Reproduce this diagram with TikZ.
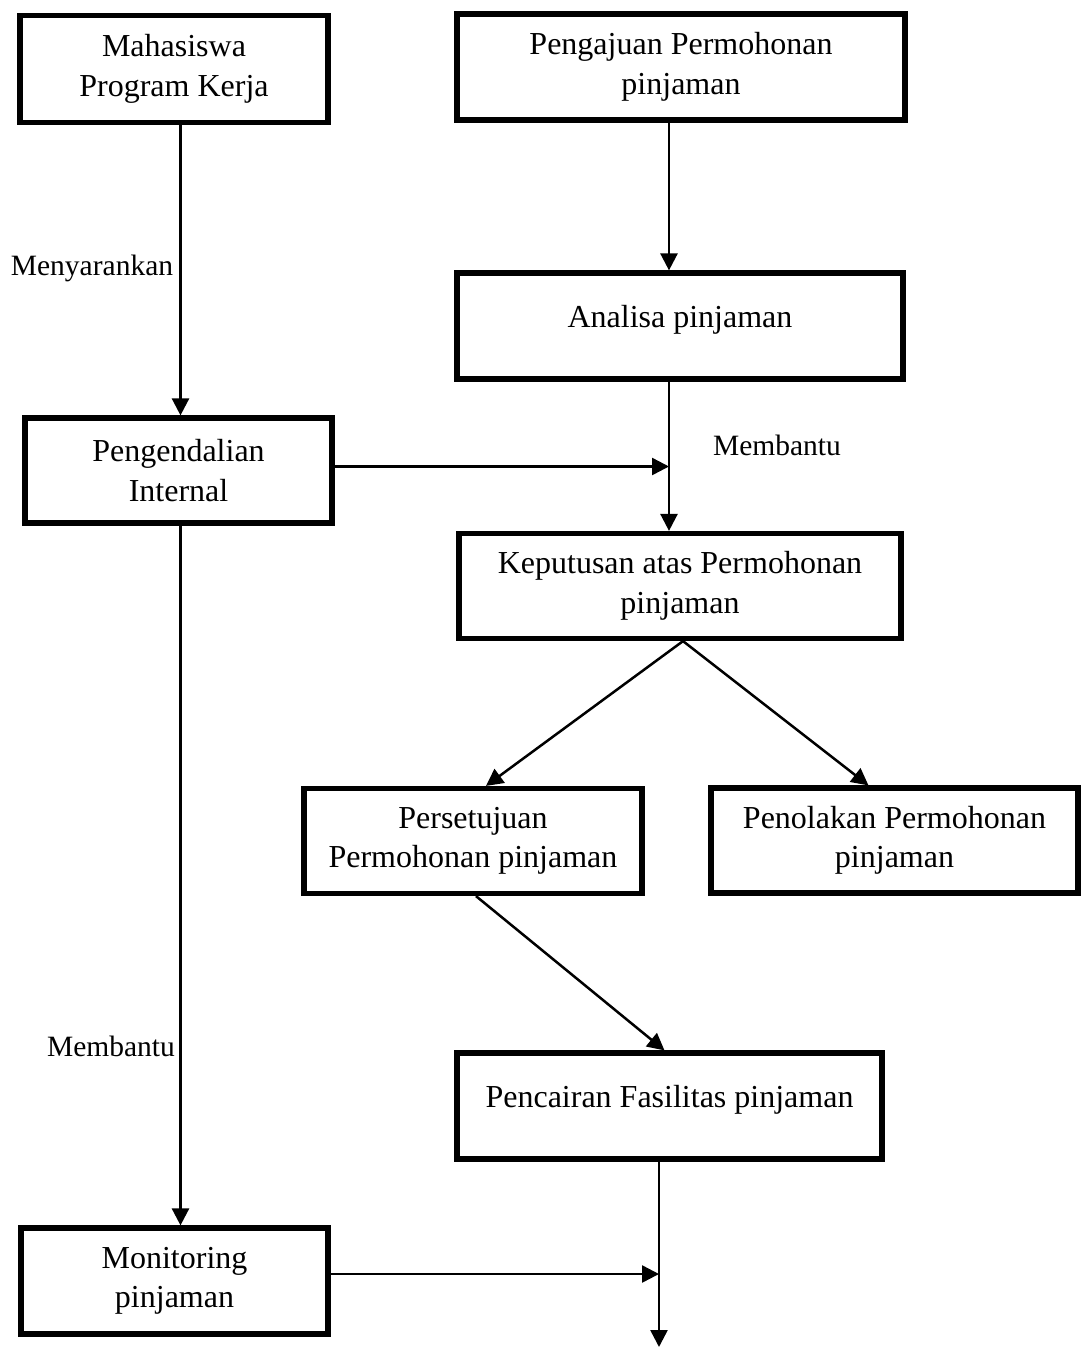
\documentclass[tikz,border=0pt]{standalone}
\usepackage{fontspec}
\setmainfont{Liberation Serif}
\usetikzlibrary{arrows.meta}
\begin{document}
\begin{tikzpicture}[x=1pt,y=-1pt,
  box/.style={draw,line width=5.2pt,align=center,inner sep=0pt,
    font=\fontsize{32}{39.5}\selectfont},
  lbl/.style={font=\fontsize{29.5}{35}\selectfont,inner sep=0pt},
  arr/.style={line width=2.5pt,-{Triangle[length=17pt,width=17pt]}}]
\useasboundingbox (0,0) rectangle (1080,1347);
\node[box,minimum width=308pt,minimum height=107pt] (m1) at (174,69) {Mahasiswa\\Program Kerja};
\node[box,minimum width=448pt,minimum height=106pt] (pp) at (681,67) {Pengajuan Permohonan\\pinjaman};
\node[box,minimum width=446pt,minimum height=106pt,text depth=20pt] (an) at (680,326) {Analisa pinjaman};
\node[box,minimum width=307pt,minimum height=105pt] (pi) at (178.5,470.5) {Pengendalian\\Internal};
\node[box,minimum width=442pt,minimum height=105pt] (kp) at (680,586) {Keputusan atas Permohonan\\pinjaman};
\node[box,minimum width=338pt,minimum height=105pt] (ps) at (473,841) {Persetujuan\\Permohonan pinjaman};
\node[box,minimum width=367pt,minimum height=105pt] (pn) at (894.5,840.5) {Penolakan Permohonan\\pinjaman};
\node[box,minimum width=425pt,minimum height=106pt,text depth=20pt] (pc) at (669.5,1106) {Pencairan Fasilitas pinjaman};
\node[box,minimum width=307pt,minimum height=106pt] (mo) at (174.5,1281) {Monitoring\\pinjaman};
\node[lbl] (l1) at (92,268) {Menyarankan};
\node[lbl] (l2) at (777,445) {Membantu};
\node[lbl] (l3) at (111,1046) {Membantu};
\coordinate (cL) at (180.5,0);
\coordinate (cR) at (669,0);
\coordinate (cB) at (659,0);
\draw[arr] (m1.south -| cL) -- (pi.north -| cL);
\draw[arr] (pp.south -| cR) -- (an.north -| cR);
\draw[arr] (an.south -| cR) -- (kp.north -| cR);
\coordinate (j1) at ([yshift=4pt]pi.east -| cR);
\draw[arr] ([yshift=4pt]pi.east) -- (j1);
\draw[arr] ([xshift=3pt]kp.south) -- ([xshift=13pt]ps.north);
\draw[arr] ([xshift=3pt]kp.south) -- ([xshift=-26pt]pn.north);
\draw[arr] ([xshift=3pt]ps.south) -- ([xshift=-5pt]pc.north);
\draw[arr] (pi.south -| cL) -- (mo.north -| cL);
\coordinate (e1) at (659,1347);
\draw[arr] (pc.south -| cB) -- (e1);
\coordinate (j2) at ([yshift=7pt]mo.east -| cB);
\draw[arr] ([yshift=7pt]mo.east) -- (j2);
\end{tikzpicture}
\end{document}
